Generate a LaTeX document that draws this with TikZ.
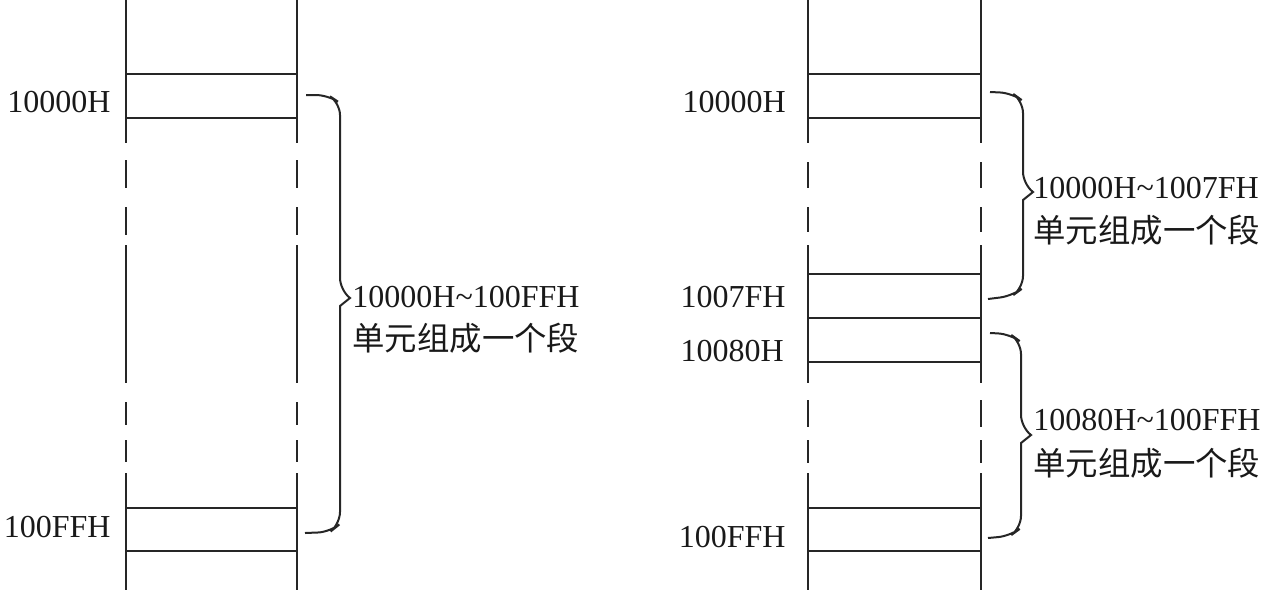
\documentclass[tikz,border=0pt]{standalone}
\usepackage{fontspec}
\setmainfont{Liberation Serif}
\newfontfamily\cjk{Noto Sans CJK SC}
\begin{document}
\begin{tikzpicture}[x=0.5pt,y=-0.5pt,
  col/.style={line width=1.2pt,draw=black!85},
  cell/.style={line width=1.2pt,draw=black!85},
  brc/.style={line width=1pt,draw=black!85,rounded corners=6pt},
  addr/.style={font=\fontsize{16}{18}\selectfont,inner sep=0pt,text=black!90},
  rng/.style={font=\fontsize{16}{18}\selectfont,inner sep=0pt,anchor=west,text=black!90},
  zh/.style={font=\cjk\fontsize{16.2}{18}\selectfont,inner sep=0pt,anchor=west,text=black!90}]
\useasboundingbox (0,0) rectangle (1272,590);

% ---------- left column ----------
\foreach \x in {126,297}{
  \foreach \a/\b in {0/143,160/188,207/235,245/383,402/425,440/462,473/590}
    \draw[col] (\x,\a) -- (\x,\b);
}
\foreach \y in {74,118,508,551}
  \draw[cell] (126,\y) -- (297,\y);

\node[addr,anchor=east] (l10000) at (111,102) {10000H};
\node[addr,anchor=east] (l100FF) at (111,527) {100FFH};

\coordinate (lb1) at (306,95);
\coordinate (lb2) at (305,533);
\draw[brc] (lb1) -- (328,95) -- (340,103) -- (340,290) [sharp corners] -- (350,298) -- (340,306) [rounded corners=6pt] -- (340,524) -- (330,532) -- (lb2);
\node[rng] (lr1) at (352,297) {10000H\textasciitilde100FFH};
\node[zh] (lr2) at (352,338) {单元组成一个段};

% ---------- right column ----------
\foreach \x in {808,981}{
  \foreach \a/\b in {0/143,162/188,207/232,245/383,400/427,440/463,473/590}
    \draw[col] (\x,\a) -- (\x,\b);
}
\foreach \y in {74,118,274,318,362,508,551}
  \draw[cell] (808,\y) -- (981,\y);

\node[addr,anchor=east] (r10000) at (786,102) {10000H};
\node[addr,anchor=east] (r1007F) at (786,297) {1007FH};
\node[addr,anchor=east] (r10080) at (784,351) {10080H};
\node[addr,anchor=east] (r100FF) at (786,537) {100FFH};

\coordinate (rb1) at (990,92);
\coordinate (rb2) at (988,299);
\draw[brc] (rb1) -- (1012,93) -- (1023,101) -- (1023,184) [sharp corners] -- (1033,192) -- (1023,200) [rounded corners=6pt] -- (1023,288) -- (1012,296) -- (rb2);
\node[rng] (rr1) at (1033,188) {10000H\textasciitilde1007FH};
\node[zh] (rr2) at (1033,230) {单元组成一个段};

\coordinate (rc1) at (990,333);
\coordinate (rc2) at (988,538);
\draw[brc] (rc1) -- (1010,334) -- (1021,342) -- (1021,427) [sharp corners] -- (1031,435) -- (1021,443) [rounded corners=6pt] -- (1021,528) -- (1010,536) -- (rc2);
\node[rng] (rs1) at (1033,420) {10080H\textasciitilde100FFH};
\node[zh] (rs2) at (1033,463) {单元组成一个段};
\end{tikzpicture}
\end{document}
